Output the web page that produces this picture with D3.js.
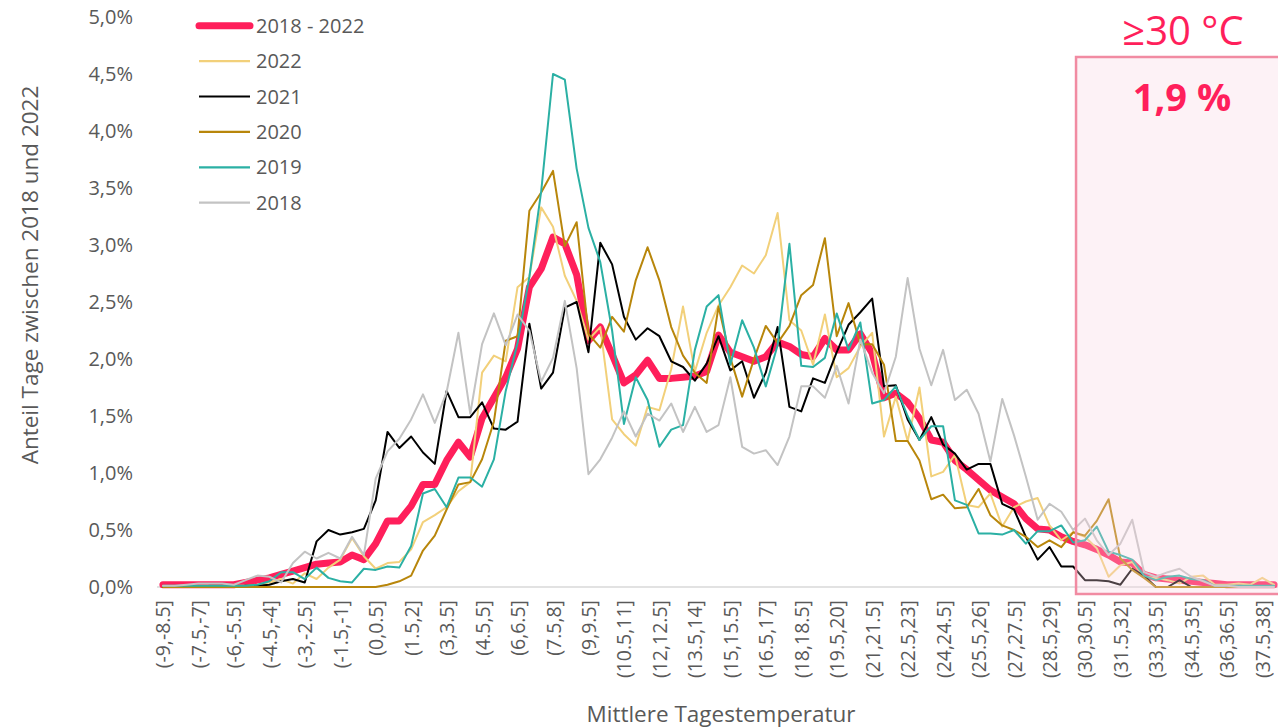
<!DOCTYPE html>
<html><head><meta charset="utf-8">
<script src="https://cdn.jsdelivr.net/npm/d3@7"></script>
<style>body{margin:0;background:#fff;} svg{display:block;}</style>
</head><body><svg id="c" width="1278" height="728"></svg>
<script>
const categories = "(-9,-8.5] (-8.5,-8] (-8,-7.5] (-7.5,-7] (-7,-6.5] (-6.5,-6] (-6,-5.5] (-5.5,-5] (-5,-4.5] (-4.5,-4] (-4,-3.5] (-3.5,-3] (-3,-2.5] (-2.5,-2] (-2,-1.5] (-1.5,-1] (-1,-0.5] (-0.5,0] (0,0.5] (0.5,1] (1,1.5] (1.5,2] (2,2.5] (2.5,3] (3,3.5] (3.5,4] (4,4.5] (4.5,5] (5,5.5] (5.5,6] (6,6.5] (6.5,7] (7,7.5] (7.5,8] (8,8.5] (8.5,9] (9,9.5] (9.5,10] (10,10.5] (10.5,11] (11,11.5] (11.5,12] (12,12.5] (12.5,13] (13,13.5] (13.5,14] (14,14.5] (14.5,15] (15,15.5] (15.5,16] (16,16.5] (16.5,17] (17,17.5] (17.5,18] (18,18.5] (18.5,19] (19,19.5] (19.5,20] (20,20.5] (20.5,21] (21,21.5] (21.5,22] (22,22.5] (22.5,23] (23,23.5] (23.5,24] (24,24.5] (24.5,25] (25,25.5] (25.5,26] (26,26.5] (26.5,27] (27,27.5] (27.5,28] (28,28.5] (28.5,29] (29,29.5] (29.5,30] (30,30.5] (30.5,31] (31,31.5] (31.5,32] (32,32.5] (32.5,33] (33,33.5] (33.5,34] (34,34.5] (34.5,35] (35,35.5] (35.5,36] (36,36.5] (36.5,37] (37,37.5] (37.5,38] (38,38.5]".split(" ");

const yTicks = [0, 0.5, 1, 1.5, 2, 2.5, 3, 3.5, 4, 4.5, 5];
const seriesNames = ["2018 - 2022", "2022", "2021", "2020", "2019", "2018"];
const seriesColors = ["#FF1F5B", "#F2D07A", "#000000", "#B8860B", "#2BB0A4", "#C3C3C3"];

// values in percent
const s2018_2022 = [0.02,0.02,0.02,0.02,0.02,0.02,0.02,0.04,0.06,0.08,
0.11,0.14,0.17,0.20,0.21,0.22,0.28,0.24,0.38,0.58,
0.58,0.71,0.90,0.90,1.11,1.27,1.14,1.48,1.66,1.84,
2.09,2.63,2.79,3.07,3.01,2.74,2.16,2.28,2.04,1.79,
1.86,1.99,1.83,1.83,1.84,1.85,1.89,2.21,2.06,2.02,
1.98,2.02,2.15,2.11,2.04,2.02,2.18,2.08,2.08,2.22,
2.05,1.66,1.70,1.62,1.48,1.29,1.27,1.11,1.03,0.94,
0.85,0.79,0.73,0.60,0.51,0.50,0.44,0.40,0.37,0.33,
0.28,0.22,0.21,0.11,0.08,0.07,0.06,0.05,0.04,0.03,
0.02,0.02,0.02,0.02,0.02];
const s2022 = [0,0,0,0.01,0.01,0.01,0.01,0.01,0.02,0.04,
0.07,0.03,0.12,0.07,0.17,0.24,0.43,0.27,0.16,0.21,
0.22,0.33,0.57,0.63,0.70,0.84,0.92,1.88,2.03,1.98,
2.63,2.72,3.33,3.16,2.73,2.51,2.17,2.28,1.47,1.34,
1.24,1.58,1.55,1.91,2.46,1.89,2.23,2.47,2.63,2.82,
2.75,2.91,3.28,2.34,2.25,1.95,2.39,1.84,1.92,2.11,
2.23,1.32,1.67,1.28,1.75,0.97,1.01,1.16,0.72,0.70,
0.82,0.53,0.70,0.75,0.78,0.54,0.41,0.48,0.44,0.34,
0.09,0.19,0.22,0.09,0.08,0.06,0.03,0.09,0.10,0.02,
0.02,0.03,0.02,0.08,0.02];
const s2021 = [0,0,0,0,0.01,0.01,0,0.01,0.01,0.02,
0.05,0.07,0.04,0.40,0.50,0.46,0.48,0.51,0.76,1.36,
1.22,1.32,1.18,1.08,1.72,1.49,1.49,1.62,1.39,1.38,
1.45,2.31,1.74,1.88,2.45,2.50,2.06,3.02,2.83,2.37,
2.17,2.27,2.20,1.98,1.93,1.81,1.96,2.20,1.90,1.98,
1.66,1.88,2.28,1.58,1.54,1.83,1.79,2.06,2.30,2.41,
2.53,1.76,1.77,1.47,1.29,1.49,1.25,1.17,1.03,1.08,
1.08,0.73,0.68,0.44,0.24,0.35,0.18,0.18,0.06,0.06,
0.05,0.02,0.16,0.10,0,0,0.06,0,0,0,
0,0,0,0,0];
const s2020 = [0,0,0,0,0,0,0,0,0,0,
0,0,0,0,0,0,0,0,0,0.02,
0.05,0.10,0.32,0.45,0.68,0.90,0.92,1.12,1.45,2.16,
2.20,3.30,3.46,3.65,2.99,3.20,2.22,2.10,2.37,2.24,
2.69,2.98,2.69,2.28,2.03,1.88,1.79,2.46,2.01,1.67,
2.00,2.29,2.14,2.29,2.56,2.65,3.06,2.20,2.49,2.13,
2.13,1.95,1.28,1.28,1.11,0.77,0.81,0.69,0.70,0.86,
0.63,0.54,0.50,0.44,0.35,0.41,0.35,0.48,0.45,0.58,
0.77,0.25,0.15,0.08,0,0,0,0,0,0,
0,0,0,0,0];
const s2019 = [0.01,0.01,0.01,0.01,0.01,0.01,0.01,0.01,0.02,0.05,
0.13,0.13,0.07,0.17,0.08,0.05,0.04,0.16,0.15,0.18,
0.17,0.36,0.82,0.86,0.70,0.96,0.96,0.88,1.12,1.72,
2.14,2.72,3.47,4.50,4.45,3.67,3.15,2.85,2.25,1.43,
1.84,1.64,1.23,1.38,1.42,2.08,2.46,2.56,1.95,2.34,
2.10,1.76,2.12,3.01,1.94,1.93,2.01,2.40,2.08,2.32,
1.61,1.64,1.76,1.50,1.29,1.41,1.41,0.76,0.72,0.47,
0.47,0.46,0.50,0.38,0.49,0.49,0.54,0.39,0.41,0.53,
0.31,0.28,0.24,0.10,0.06,0.09,0.10,0.07,0.06,0.01,
0.01,0.01,0.01,0.01,0.01];
const s2018 = [0.01,0.01,0.02,0.03,0.03,0.03,0.02,0.06,0.10,0.09,
0.04,0.21,0.31,0.25,0.30,0.25,0.44,0.28,0.95,1.19,
1.30,1.47,1.69,1.44,1.71,2.23,1.52,2.13,2.40,2.12,
2.39,2.25,1.80,2.01,2.51,1.92,0.99,1.12,1.31,1.54,
1.32,1.52,1.46,1.61,1.36,1.58,1.36,1.42,1.84,1.23,
1.17,1.20,1.07,1.32,1.76,1.76,1.66,1.94,1.61,2.17,
1.88,1.70,2.02,2.71,2.09,1.77,2.08,1.64,1.73,1.52,
1.10,1.65,1.33,0.97,0.59,0.73,0.66,0.50,0.60,0.41,
0.28,0.38,0.59,0.13,0.09,0.13,0.16,0.09,0.05,0.01,
0.01,0,0,0,0];

const seriesValues = [s2018_2022, s2022, s2021, s2020, s2019, s2018];
const seriesWidths = [7, 2, 2, 2, 2, 2];
const highlightStart = "(30,30.5]";
const highlightTitle = "≥30 °C";
const highlightValue = "1,9 %";

const FONT = "'Open Sans', 'Noto Sans', sans-serif";
const TXT = "#595959";
const svg = d3.select("#c");

const x = d3.scalePoint().domain(categories).range([157, 1280]).padding(0.5);
const y = d3.scaleLinear().domain([0, 5]).range([587, 17]);

// baseline (category axis line)
svg.append("line").attr("x1", 157).attr("x2", 1278)
  .attr("y1", y(0)).attr("y2", y(0)).attr("stroke", "#D9D9D9").attr("stroke-width", 1.5);

// y axis
const yAxis = d3.axisLeft(y).tickValues(yTicks).tickSize(0).tickPadding(0)
  .tickFormat(d => d3.format(".1f")(d).replace(".", ",") + "%");
const gy = svg.append("g").attr("transform", "translate(133,0)").call(yAxis);
gy.select(".domain").remove();
gy.attr("font-family", FONT).attr("font-size", 20);
gy.selectAll("text").attr("fill", TXT);

// x axis
const xAxis = d3.axisBottom(x).tickValues(categories.filter((d, i) => i % 3 === 0)).tickSize(0);
const gx = svg.append("g").attr("transform", "translate(0,598)").call(xAxis);
gx.select(".domain").remove();
gx.attr("font-family", FONT).attr("font-size", 19.5);
gx.selectAll("text").attr("fill", TXT)
  .attr("transform", "rotate(-90)").attr("x", -2).attr("y", 0)
  .attr("dy", "0.36em").attr("text-anchor", "end");

// axis titles
svg.append("text").attr("transform", "translate(30,275) rotate(-90)")
  .attr("text-anchor", "middle").attr("dy", "0.35em")
  .attr("font-family", FONT).attr("font-size", 22.5).attr("fill", TXT)
  .text("Anteil Tage zwischen 2018 und 2022");
svg.append("text").attr("x", 721).attr("y", 722)
  .attr("text-anchor", "middle")
  .attr("font-family", FONT).attr("font-size", 22.5).attr("fill", TXT)
  .text("Mittlere Tagestemperatur");

// lines
const line = d3.line().x((d, i) => x(categories[i])).y(d => y(d));
seriesValues.forEach((vals, k) => {
  svg.append("path").datum(vals).attr("d", line)
    .attr("fill", "none").attr("stroke", seriesColors[k])
    .attr("stroke-width", seriesWidths[k])
    .attr("stroke-linejoin", "round").attr("stroke-linecap", "round");
});

// highlight box (drawn over lines, semi-transparent)
const bx = x(highlightStart) - x.step() / 2 - 3;
svg.append("rect").attr("x", bx).attr("y", 57)
  .attr("width", 1300 - bx).attr("height", 594 - 57)
  .attr("fill", "rgb(249,212,224)").attr("fill-opacity", 0.3)
  .attr("stroke", "#F18BA2").attr("stroke-width", 2.5);
svg.append("text").attr("x", 1183).attr("y", 45).attr("text-anchor", "middle")
  .attr("font-family", FONT).attr("font-size", 40).attr("fill", "#FF1F5B")
  .text(highlightTitle);
svg.append("text").attr("x", 1182).attr("y", 111).attr("text-anchor", "middle")
  .attr("font-family", FONT).attr("font-size", 38).attr("font-weight", "bold").attr("fill", "#FF1F5B")
  .text(highlightValue);

// legend
const lg = svg.append("g");
seriesNames.forEach((name, k) => {
  const ly = 25.7 + k * 35.4;
  lg.append("line").attr("x1", 199).attr("x2", 250).attr("y1", ly).attr("y2", ly)
    .attr("stroke", seriesColors[k]).attr("stroke-width", k === 0 ? 7 : 2.2)
    .attr("stroke-linecap", k === 0 ? "round" : "butt");
  lg.append("text").attr("x", 256).attr("y", ly).attr("dy", "0.35em")
    .attr("font-family", FONT).attr("font-size", 20).attr("fill", TXT).text(name);
});
</script>
</body></html>
